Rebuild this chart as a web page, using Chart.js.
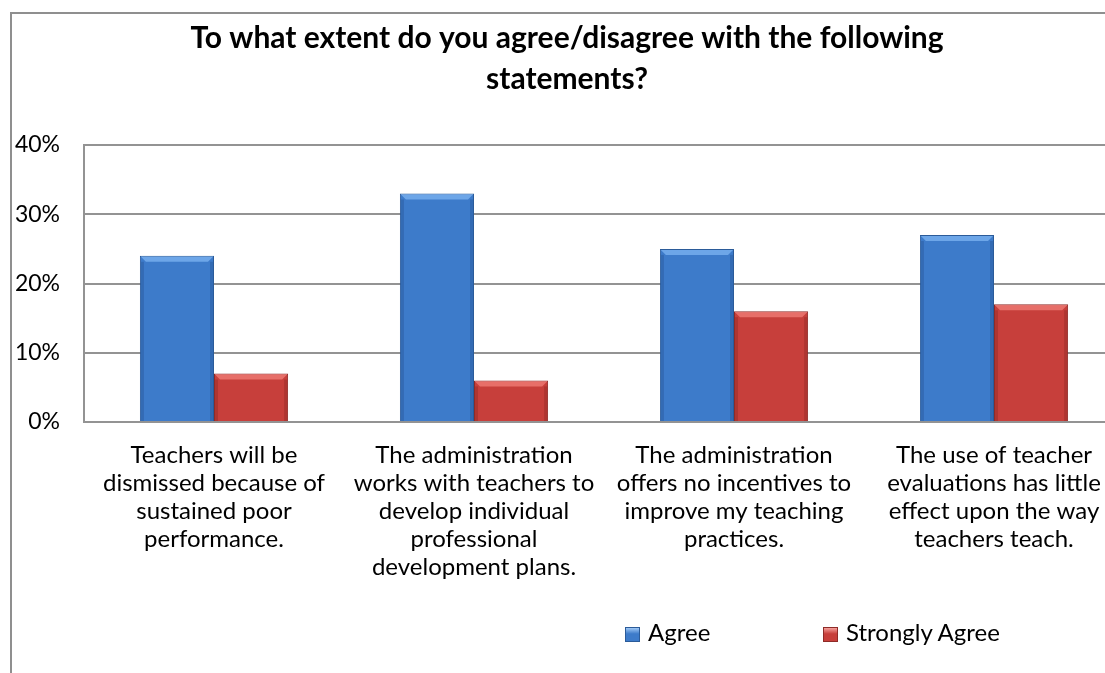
<!DOCTYPE html>
<html>
<head>
<meta charset="utf-8">
<script src="https://cdn.jsdelivr.net/npm/chart.js@4.4.1/dist/chart.umd.min.js"></script>
<style>
    body { margin: 0; background: #fff; overflow: hidden; }
    #frame { position: absolute; left: 10px; top: 12px; width: 1200px; height: 800px; border: 2px solid #8f8f8f; }
    #wrap { position: absolute; left: 0; top: 0; width: 1160px; height: 700px; }
    .legend-item { position: absolute; top: 617px; height: 30px; line-height: 30px; font: 24px Lato; color: #000; white-space: nowrap; }
    .legend-box { position: absolute; left: 0; top: 10px; width: 13px; height: 13px; border: 1px solid #555; }
    .legend-text { position: absolute; left: 23px; top: 0; }
</style>
</head>
<body>
<div id="frame"></div>
<div id="wrap"><canvas id="chartJS1"></canvas></div>
<div id="legend"></div>
<script>
var categories = [
    ['Teachers will be', 'dismissed because of', 'sustained poor', 'performance.'],
    ['The administration', 'works with teachers to', 'develop individual', 'professional', 'development plans.'],
    ['The administration', 'offers no incentives to', 'improve my teaching', 'practices.'],
    ['The use of teacher', 'evaluations has little', 'effect upon the way', 'teachers teach.']
];
var seriesNames = ['Agree', 'Strongly Agree'];
var agreeValues = [24, 33, 25, 27];
var stronglyAgreeValues = [7, 6, 16, 17];
var yTickValues = [0, 10, 20, 30, 40];

var fillColors = ['#3d7bca', '#c73f3b'];
var edgeColors = ['#2b5b99', '#8e2b28'];
var lightColors = ['rgba(125,180,242,0.75)', 'rgba(242,128,122,0.75)'];
var darkColors = ['rgba(30,70,130,0.3)', 'rgba(120,30,28,0.3)'];
var legendLeft = [625, 823];

// excel-ish bevel on top of every bar
var bevelPlugin = {
    id: 'bevel',
    afterDatasetsDraw: function (chart) {
        var ctx = chart.ctx;
        chart.data.datasets.forEach(function (ds, di) {
            chart.getDatasetMeta(di).data.forEach(function (bar) {
                var p = bar.getProps(['x', 'y', 'base', 'width'], true);
                var l = p.x - p.width / 2, r = p.x + p.width / 2, t = p.y, b = p.base;
                var d = 6;
                ctx.save();
                ctx.fillStyle = lightColors[di];
                ctx.beginPath();
                ctx.moveTo(l + 1, t + 1); ctx.lineTo(r - 1, t + 1); ctx.lineTo(r - d, t + d); ctx.lineTo(l + d, t + d);
                ctx.closePath(); ctx.fill();
                ctx.fillStyle = darkColors[di];
                ctx.fillRect(l + 1, t + d, 3, b - t - d);
                ctx.fillRect(r - 4, t + d, 3, b - t - d);
                ctx.restore();
            });
        });
    }
};

var ctx1 = document.getElementById('chartJS1').getContext('2d');
var chart1 = new Chart(ctx1, {
    type: 'bar',
    data: {
        labels: categories,
        datasets: [{
            label: seriesNames[0],
            data: agreeValues,
            backgroundColor: fillColors[0],
            borderColor: edgeColors[0],
            borderWidth: 1,
            categoryPercentage: 0.57,
            barPercentage: 1
        }, {
            label: seriesNames[1],
            data: stronglyAgreeValues,
            backgroundColor: fillColors[1],
            borderColor: edgeColors[1],
            borderWidth: 1,
            categoryPercentage: 0.57,
            barPercentage: 1
        }]
    },
    plugins: [bevelPlugin],
    options: {
        maintainAspectRatio: false,
        responsive: true,
        animation: false,
        layout: {
            padding: { left: 10, right: 36, top: 0, bottom: 118 }
        },
        plugins: {
            title: {
                display: true,
                text: ['To what extent do you agree/disagree with the following', 'statements?'],
                color: '#000',
                font: { family: 'Lato', size: 30, weight: 'bold', lineHeight: '41px' },
                padding: { top: 18, bottom: 45 }
            },
            legend: { display: false },
            tooltip: { enabled: false }
        },
        scales: {
            y: {
                min: 0,
                max: 40,
                afterFit: function (scale) { scale.width = 74; },
                afterBuildTicks: function (scale) {
                    scale.ticks = yTickValues.map(function (v) { return { value: v }; });
                },
                ticks: {
                    color: '#000',
                    padding: 24,
                    font: { family: 'Lato', size: 23 },
                    callback: function (v) { return v + '%'; }
                },
                grid: {
                    color: '#939393',
                    lineWidth: 2,
                    drawTicks: false
                },
                border: { color: '#939393', width: 2 }
            },
            x: {
                afterFit: function (scale) { scale.height = 160; },
                ticks: {
                    color: '#000',
                    padding: 19,
                    autoSkip: false,
                    maxRotation: 0,
                    minRotation: 0,
                    font: { family: 'Lato', size: 24, lineHeight: '28px' }
                },
                grid: { display: false, drawTicks: false },
                border: { color: '#939393', width: 2 }
            }
        }
    }
});

// legend spread out like the excel one, built from the chart's datasets
var legendDiv = document.getElementById('legend');
chart1.data.datasets.forEach(function (ds, i) {
    var item = document.createElement('div');
    item.className = 'legend-item';
    item.style.left = legendLeft[i] + 'px';
    var box = document.createElement('span');
    box.className = 'legend-box';
    box.style.background = 'linear-gradient(' + lightColors[i] + ', ' + ds.backgroundColor + ' 45%)';
    box.style.borderColor = ds.borderColor;
    var txt = document.createElement('span');
    txt.className = 'legend-text';
    txt.textContent = ds.label;
    item.appendChild(box);
    item.appendChild(txt);
    legendDiv.appendChild(item);
});
</script>
</body>
</html>
